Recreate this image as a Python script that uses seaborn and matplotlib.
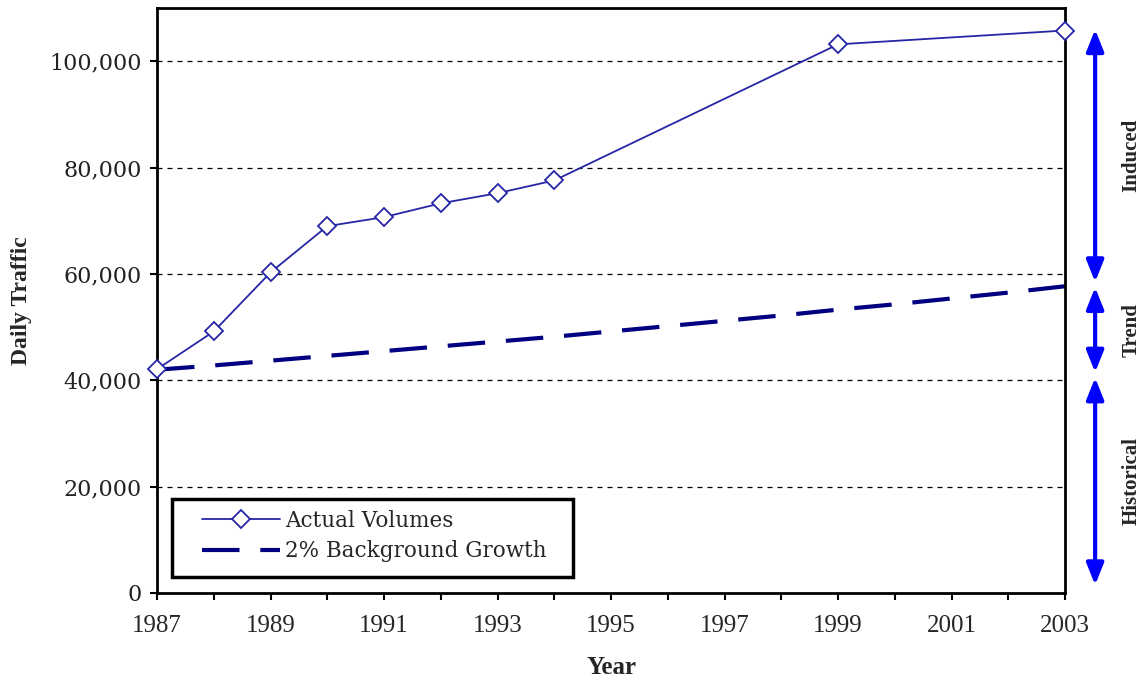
import matplotlib
matplotlib.use("Agg")
import matplotlib.pyplot as plt
import matplotlib.patches as mpatches
import seaborn as sns
import pandas as pd

# Data
actual_years = [1987, 1988, 1989, 1990, 1991, 1992, 1993, 1994, 1999, 2003]
actual_volumes = [42100, 49200, 60300, 69000, 70700, 73300, 75200, 77600, 103200, 105800]

growth_years = list(range(1987, 2004))
growth_volumes = [42000, 42800, 43700, 44600, 45500, 46400, 47300, 48200, 49200,
                  50200, 51200, 52200, 53300, 54300, 55400, 56500, 57700]

# Bracket ranges on the right side: (label, bottom, top)
bands = [("Induced", 58500, 106000), ("Trend", 41500, 57500), ("Historical", 1500, 40500)]

sns.set_style("white")
plt.rcParams['font.family'] = ['Liberation Serif', 'DejaVu Serif']

df_actual = pd.DataFrame({"year": actual_years, "traffic": actual_volumes})
df_growth = pd.DataFrame({"year": growth_years, "traffic": growth_volumes})

fig = plt.figure(figsize=(11.43, 6.82), dpi=100)
ax = fig.add_axes([0.1374, 0.1305, 0.7944, 0.8575])

sns.lineplot(x="year", y="traffic", data=df_growth, ax=ax, color="#000080",
             linewidth=3, label="2% Background Growth", zorder=2)
ax.lines[-1].set_dashes([9, 5])
sns.lineplot(x="year", y="traffic", data=df_actual, ax=ax, color="#2626a6",
             linewidth=1.3, marker="D", markersize=9, markerfacecolor="white",
             markeredgecolor="#2626a6", markeredgewidth=1.3,
             label="Actual Volumes", zorder=3, clip_on=False)

ax.set_xlim(1987, 2003)
ax.set_ylim(0, 110000)
ax.set_xticks(range(1987, 2004, 2))
ax.set_xticks(range(1987, 2004), minor=True)
ax.set_yticks(range(0, 100001, 20000))
ax.set_yticklabels([f"{v:,}" for v in range(0, 100001, 20000)], fontsize=16,
                   family="DejaVu Serif", color="#222222")
ax.set_xticklabels([str(y) for y in range(1987, 2004, 2)], fontsize=18)
ax.tick_params(axis="both", which="both", direction="out", length=5, width=1.5,
               color="black", bottom=True, left=True)
ax.tick_params(axis="x", pad=11)
ax.tick_params(axis="y", pad=6)

for y in range(20000, 100001, 20000):
    ax.axhline(y, color="black", linestyle=(0, (4, 4)), linewidth=0.9, zorder=1)

for s in ax.spines.values():
    s.set_color("black")
    s.set_linewidth(2)

ax.set_xlabel("Year", fontsize=18, fontweight="bold")
ax.set_ylabel("Daily Traffic", fontsize=17, fontweight="bold")
ax.xaxis.set_label_coords(0.5, -0.108)
ax.yaxis.set_label_coords(-0.138, 0.5)

# Legend without its own frame, plus a hand-placed box around it
handles, labels = ax.get_legend_handles_labels()
leg = ax.legend(handles[::-1], labels[::-1], loc="center left",
                bbox_to_anchor=(0.0496, 0.0974),
                prop={"family": "DejaVu Serif", "size": 15.5},
                handlelength=3.6, handletextpad=0.25, borderpad=0,
                labelspacing=0.4, frameon=False, borderaxespad=0)
leg.set_zorder(6)
frame = mpatches.Rectangle((0.0165, 0.0274), 0.4417, 0.1333, transform=ax.transAxes,
                           facecolor="white", edgecolor="black", linewidth=2.5,
                           zorder=5)
ax.add_patch(frame)

# Arrows and labels on the right side
arrow_x = 2003.53
for label, lo, hi in bands:
    ax.annotate("", xy=(arrow_x, lo), xytext=(arrow_x, hi),
                arrowprops=dict(arrowstyle="<|-|>,head_length=0.65,head_width=0.26",
                                color="#0000ff", lw=3, mutation_scale=20,
                                shrinkA=0, shrinkB=0),
                annotation_clip=False)
    ax.text(2004.17, (lo + hi) / 2, label, rotation=90, ha="center", va="center",
            fontsize=15, fontweight="bold", clip_on=False)

fig.savefig("out.png", dpi=100)
